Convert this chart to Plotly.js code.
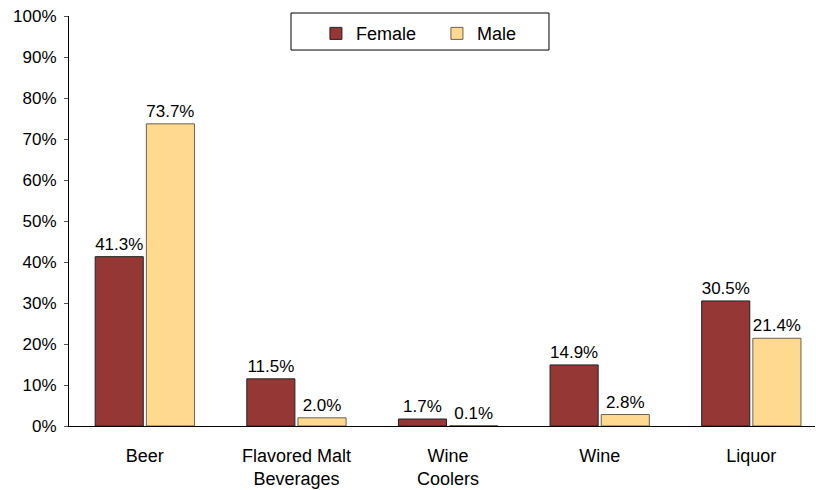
<!DOCTYPE html>
<html>
<head>
<meta charset="utf-8">
<script src="https://cdn.plot.ly/plotly-3.0.1.min.js"></script>
<style>html,body{margin:0;padding:0;background:#fff;}#chart{width:816px;height:490px;}</style>
</head>
<body>
<div id="chart"></div>
<script>
const categories = ["Beer", "Flavored Malt<br>Beverages", "Wine<br>Coolers", "Wine", "Liquor"];
const female = [41.3, 11.5, 1.7, 14.9, 30.5];
const male = [73.7, 2.0, 0.1, 2.8, 21.4];
const yTickVals = [0, 10, 20, 30, 40, 50, 60, 70, 80, 90, 100];
const yTickText = yTickVals.map(v => v + "%");

const font = "Arial, 'Liberation Sans', sans-serif";

const traces = [
  {
    type: "bar", name: "Female", x: categories, y: female,
    marker: {color: "#953735", line: {color: "#222222", width: 1}},
    text: female.map(v => v.toFixed(1) + "%"), textposition: "outside",
    textfont: {size: 17, color: "#000", family: font}, cliponaxis: false
  },
  {
    type: "bar", name: "Male", x: categories, y: male,
    marker: {color: "#FFD98F", line: {color: "#6a6250", width: 1}},
    text: male.map(v => v.toFixed(1) + "%"), textposition: "outside",
    textfont: {size: 17, color: "#000", family: font}, cliponaxis: false
  }
];

const layout = {
  width: 816, height: 490,
  margin: {l: 69, r: 1, t: 16, b: 64},
  paper_bgcolor: "#fff", plot_bgcolor: "#fff",
  font: {family: font, color: "#000", size: 17},
  barmode: "group", bargap: 0.325, bargroupgap: 0.06,
  showlegend: true,
  legend: {
    orientation: "h", x: 0.331, xanchor: "left", y: 1.002, yanchor: "top",
    borderwidth: 0, bgcolor: "rgba(0,0,0,0)",
    font: {size: 18, family: font}, entrywidth: 76, entrywidthmode: "pixels",
    traceorder: "normal"
  },
  shapes: [{
    type: "rect", xref: "paper", yref: "paper",
    x0: 0.2976, x1: 0.6434, y0: 0.917, y1: 1.0073,
    line: {color: "#000", width: 1}, fillcolor: "rgba(0,0,0,0)", layer: "below"
  }],
  xaxis: {
    type: "category", range: [-0.5, 4.42],
    showline: true, linecolor: "#000", linewidth: 1,
    ticks: "", showgrid: false, zeroline: false, ticklabelstandoff: 13,
    tickfont: {size: 18, family: font}, fixedrange: true
  },
  yaxis: {
    range: [0, 100], tickvals: yTickVals, ticktext: yTickText,
    showline: true, linecolor: "#000", linewidth: 1,
    ticks: "outside", ticklen: 4, tickcolor: "#555",
    showgrid: false, zeroline: false, ticklabelstandoff: 4,
    tickfont: {size: 17, family: font}, fixedrange: true
  }
};

Plotly.newPlot("chart", traces, layout, {displayModeBar: false, staticPlot: true});
</script>
</body>
</html>
